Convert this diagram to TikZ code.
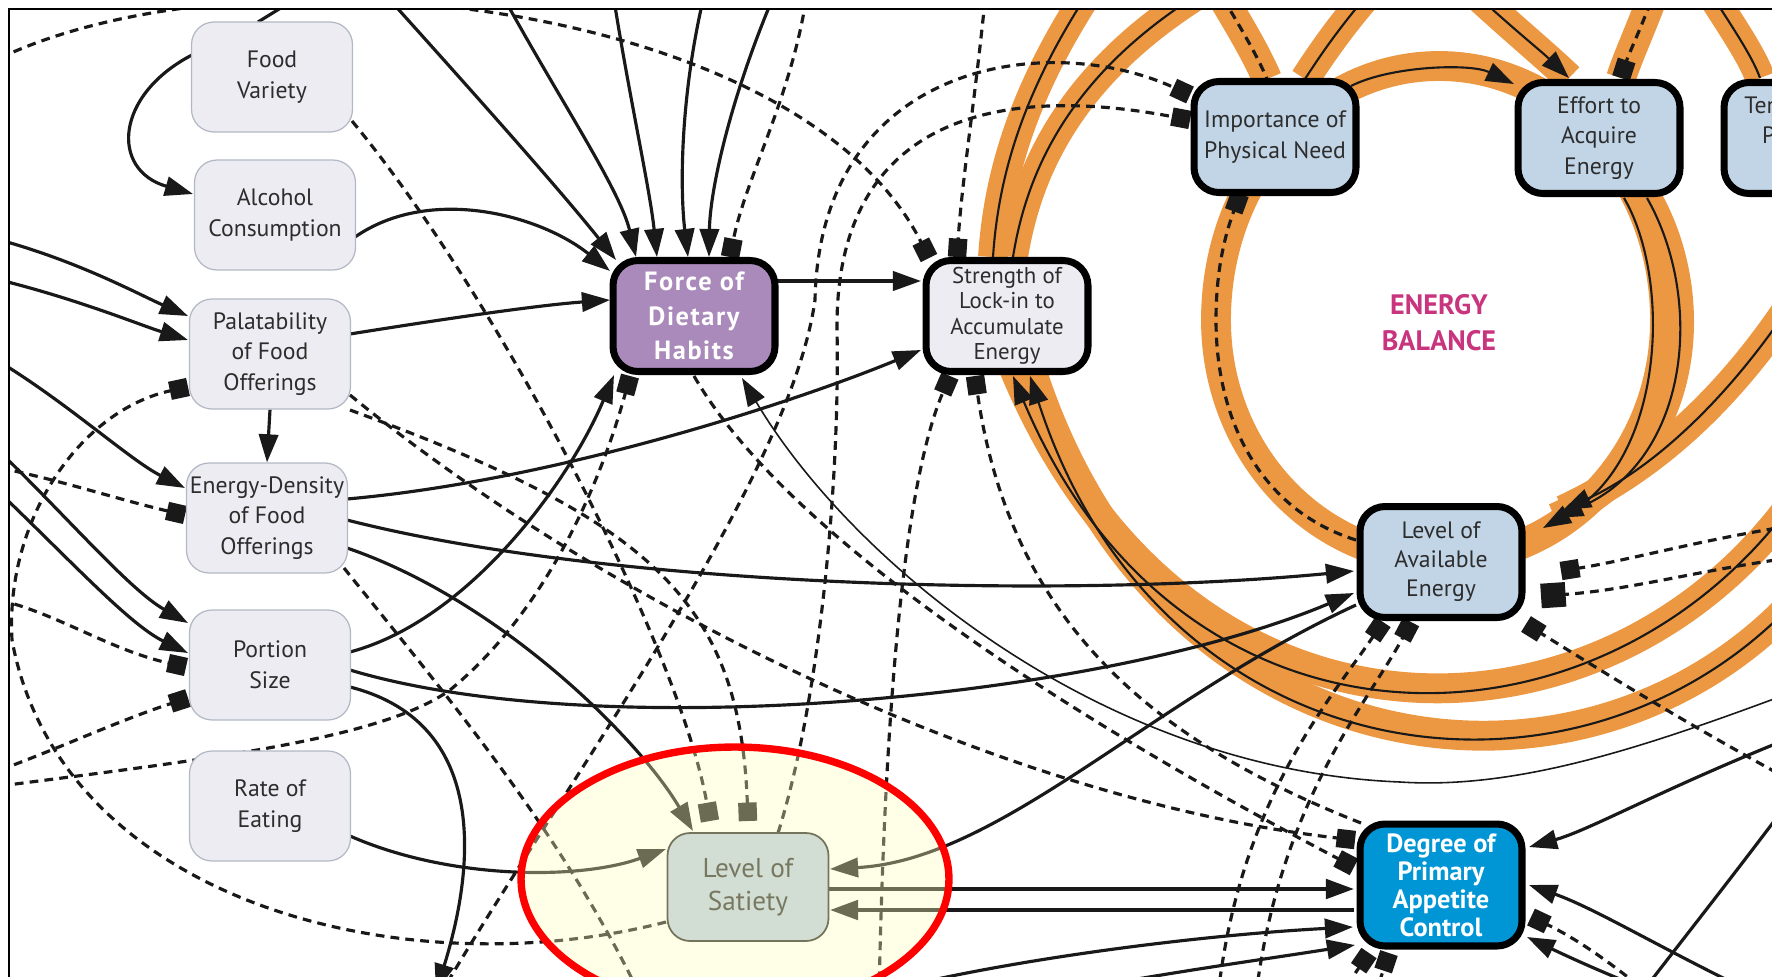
\documentclass[tikz,border=0pt]{standalone}
\usepackage{fontspec}
\setmainfont{PT Sans}
\usetikzlibrary{positioning,calc,arrows.meta,backgrounds}

\definecolor{eborange}{RGB}{236,151,66}
\definecolor{varfill}{RGB}{236,236,242}
\definecolor{varline}{RGB}{178,184,196}
\definecolor{corefill}{RGB}{194,213,230}
\definecolor{habitfill}{RGB}{169,138,186}
\definecolor{appfill}{RGB}{0,150,214}
\definecolor{satfill}{RGB}{185,204,224}
\definecolor{balancetext}{RGB}{200,52,125}
\definecolor{textgrey}{RGB}{45,45,45}
\definecolor{hilite}{RGB}{255,255,190}

\begin{document}
\begin{tikzpicture}[x=0.02cm,y=-0.02cm]
\tikzset{
  varbox/.style={
    draw=varline, line width=0.7pt, fill=varfill, rounded corners=0.45cm,
    minimum width=3.22cm, minimum height=2.2cm, align=center, inner sep=1pt,
    text=textgrey, font=\fontsize{13.5}{17.5}\selectfont
  },
  keybox/.style={
    varbox, draw=black, line width=4pt, fill=corefill, rounded corners=0.5cm,
    minimum width=3.24cm, minimum height=2.22cm
  },
  link/.style={
    draw=black!90, line width=1.8pt,
    -{Triangle[length=16pt,width=11pt]}
  },
  thinlink/.style={link, line width=0.9pt},
  inhib/.style={
    draw=black!90, line width=1.8pt, dash pattern=on 5pt off 3.5pt,
    -{Square[length=10.5pt,width=10.5pt]}
  },
  openinhib/.style={
    draw=black!90, line width=1.8pt, dash pattern=on 5pt off 3.5pt
  },
  band/.style={draw=eborange, line width=17pt},
  loopline/.style={draw=black!90, line width=1.2pt},
  looplink/.style={loopline, -{Triangle[length=16pt,width=11pt]}}
}
\useasboundingbox (0,0) rectangle (1772,977);
\clip (0,0) rectangle (1772,977);

% ======= Variables =======
\node[varbox] (fv) at (272,77)  {Food\\Variety};
\node[varbox] (ac) at (275,215) {Alcohol\\Consumption};
\node[varbox] (pa) at (270,354) {Palatability\\of Food\\Offerings};
\node[varbox] (ed) at (267,518) {Energy-Density\\of Food\\Offerings};
\node[varbox] (ps) at (270,665) {Portion\\Size};
\node[varbox] (re) at (270,806) {Rate of\\Eating};

\node[keybox, fill=habitfill, text=white,
      font=\bfseries\addfontfeature{LetterSpace=6}\fontsize{15}{19.5}\selectfont] (fd) at (694,316) {Force of\\Dietary\\Habits};
\node[keybox, fill=varfill, font=\fontsize{13}{14.5}\selectfont] (sl) at (1007,316) {Strength of\\Lock-in to\\Accumulate\\Energy};
\node[keybox] (ip) at (1275,137) {Importance of\\Physical Need};
\node[keybox] (ea) at (1599,138) {Effort to\\Acquire\\Energy};
\node[keybox] (te) at (1805,138) {Tendency to\\Preserve\\Energy};
\node[keybox, font=\fontsize{13.5}{16.5}\selectfont] (la) at (1441,562) {Level of\\Available\\Energy};
\node[keybox, fill=appfill, text=white, minimum height=2.44cm,
      font=\bfseries\fontsize{15}{16}\selectfont] (dp) at (1441,885) {Degree of\\Primary\\Appetite\\Control};
\node[varbox, fill=satfill, draw=black!85, line width=1pt, minimum height=2.16cm,
      font=\fontsize{15.5}{19}\selectfont] (ls) at (748,887) {Level of\\Satiety};

\node[font=\bfseries\fontsize{16}{20.5}\selectfont, text=balancetext, align=center] (eb) at (1439,323) {ENERGY\\BALANCE};

% ======= Free ends at the frame =======
\coordinate (tfv) at (310,-10);
\coordinate (tp1) at (390,0);   \coordinate (tp2) at (505,0);
\coordinate (tp3) at (614,0);   \coordinate (tp4) at (703,0);
\coordinate (tp5) at (772,0);   \coordinate (tp6) at (1400,-40);
\coordinate (tp7) at (1440,-40); \coordinate (tp8) at (1200,-40);
\coordinate (tp9) at (1665,-40); \coordinate (tp10) at (1690,-40);
\coordinate (tp11) at (985,0);  \coordinate (tp12) at (806,0);
\coordinate (lp1) at (1110,-40); \coordinate (lp2) at (1240,-30);
\coordinate (lp3) at (1850,400); \coordinate (lp4) at (1880,470);
\coordinate (lf1) at (0,240);   \coordinate (lf2) at (0,280);
\coordinate (lf3) at (0,362);   \coordinate (lf4) at (0,452);
\coordinate (lf5) at (0,493);   \coordinate (lf6) at (0,58);
\coordinate (lf7) at (0,786);   \coordinate (lf8) at (0,468);
\coordinate (lf9) at (0,600);   \coordinate (lf10) at (0,770);
\coordinate (bt1) at (436,992); \coordinate (bt2) at (440,995);
\coordinate (bt3) at (879,995); \coordinate (bt4) at (640,995);
\coordinate (bt5) at (1218,995); \coordinate (bt6) at (1256,995);
\coordinate (bt7) at (1650,995); \coordinate (bt8) at (1330,1010);
\coordinate (bt9) at (1370,1010); \coordinate (bt10) at (870,995);
\coordinate (bt11) at (1050,995); \coordinate (bt12) at (1640,995);
\coordinate (rt1) at (1790,693); \coordinate (rt2) at (1800,290);
\coordinate (rt3) at (1790,526); \coordinate (rt4) at (1790,558);
\coordinate (rt5) at (1790,780); \coordinate (rt6) at (1790,738);
\coordinate (rt7) at (1790,1010); \coordinate (rt8) at (1700,1010);
\coordinate (rt9) at (1790,800);

\begin{scope}[on background layer]
\clip (9,9) rectangle (1772,977);

% ======= Energy balance loops (orange) =======
\draw[band] (1439,66) .. controls (1564,66) and (1665,180) .. (1665,320)
  .. controls (1665,453) and (1565,560) .. (1441,560)
  .. controls (1317,560) and (1216,453) .. (1216,320)
  .. controls (1216,180) and (1314,66) .. cycle;
\draw[band] ($(sl)+(-14,-59)$) .. controls (1000,150) and (1040,60) .. (lp1);
\draw[band] ($(sl)+(6,-59)$) .. controls (1030,150) and (1090,50) .. (lp2);
\draw[band] (lp3) .. controls (1700,760) and (1200,820) .. ($(sl)+(6,50)$);
\draw[band] (lp4) .. controls (1720,840) and (1180,840) .. ($(sl)+(23,50)$);
\draw[band] ($(ea)+(48,60)$) .. controls (1705,300) and (1690,460) .. ($(la)+(114,-44)$);
\draw[band] (rt2) .. controls (1730,400) and (1650,470) .. ($(la)+(122,-52)$);
\draw[band] ($(ip)+(30,-58)$) .. controls (1330,40) and (1360,0) .. (tp6);
\draw[band] (tp7) .. controls (1490,10) and (1540,50) .. ($(ea)+(-30,-60)$);
\draw[band] (tp8) .. controls (1230,10) and (1255,50) .. ($(ip)+(-8,-58)$);
\draw[band] (tp9) .. controls (1650,10) and (1630,50) .. ($(ea)+(22,-60)$);
\draw[band] (tp10) .. controls (1720,10) and (1750,50) .. ($(te)+(-45,-60)$);

% ======= Lines along the loops =======
\draw[looplink] ($(ip)+(76,-51)$) .. controls (1390,66) and (1470,63) .. ($(ea)+(-85,-54)$);
\draw[inhib] ($(la)+(-85,-22)$) .. controls (1260,510) and (1216,420) .. (1216,320)
  .. controls (1216,270) and (1225,235) .. ($(ip)+(-35,57)$);
\draw[looplink] ($(ea)+(25,60)$) .. controls (1672,280) and (1665,460) .. ($(la)+(102,-34)$);
\draw[looplink] ($(ea)+(48,60)$) .. controls (1705,300) and (1690,460) .. ($(la)+(114,-44)$);
\draw[looplink] (rt2) .. controls (1730,400) and (1650,470) .. ($(la)+(122,-52)$);
\draw[loopline] ($(sl)+(-14,-59)$) .. controls (1000,150) and (1040,60) .. (lp1);
\draw[loopline] ($(sl)+(6,-59)$) .. controls (1030,150) and (1090,50) .. (lp2);
\draw[looplink] (lp3) .. controls (1700,760) and (1200,820) .. ($(sl)+(6,60)$);
\draw[looplink] (lp4) .. controls (1720,840) and (1180,840) .. ($(sl)+(23,60)$);
\draw[loopline] ($(ip)+(30,-58)$) .. controls (1330,40) and (1360,0) .. (tp6);
\draw[looplink] (tp7) .. controls (1490,10) and (1540,50) .. ($(ea)+(-30,-60)$);
\draw[openinhib] (tp8) .. controls (1230,10) and (1255,50) .. ($(ip)+(-8,-58)$);
\draw[inhib] (tp9) .. controls (1650,10) and (1630,50) .. ($(ea)+(22,-60)$);
\draw[loopline] (tp10) .. controls (1720,10) and (1750,50) .. ($(te)+(-45,-60)$);

% ======= Solid links =======
\draw[link] ($(fv)+(-80,-22)$) .. controls (115,95) and (110,170) .. ($(ac)+(-82,-21)$);
\draw[link, -] ($(fv)+(-14,-55)$) -- (tfv);
\draw[link] ($(ac)+(80,22)$) .. controls (430,185) and (540,215) .. ($(fd)+(-84,-45)$);
\draw[link] ($(pa)+(80,-20)$) .. controls (450,318) and (540,305) .. ($(fd)+(-84,-16)$);
\draw[link] (lf1) .. controls (80,262) and (140,295) .. ($(pa)+(-82,-38)$);
\draw[link] (lf2) .. controls (80,300) and (140,325) .. ($(pa)+(-82,-14)$);
\draw[link] (pa.south) -- (ed.north);
\draw[link] (lf3) .. controls (70,405) and (130,460) .. ($(ed)+(-82,-30)$);
\draw[link] (lf4) .. controls (70,520) and (130,590) .. ($(ps)+(-82,-42)$);
\draw[link] (lf5) .. controls (70,560) and (130,625) .. ($(ps)+(-82,-12)$);
\draw[link] ($(ed)+(80,-19)$) .. controls (560,480) and (800,400) .. ($(sl)+(-86,34)$);
\draw[link] ($(ed)+(80,2)$) .. controls (600,585) and (1050,600) .. ($(la)+(-87,9)$);
\draw[link] ($(ed)+(80,30)$) .. controls (500,600) and (640,740) .. ($(ls)+(-55,-56)$);
\draw[link] ($(ps)+(80,-13)$) .. controls (470,620) and (570,480) .. ($(fd)+(-80,59)$);
\draw[link] ($(ps)+(80,5)$) .. controls (600,745) and (1100,700) .. ($(la)+(-87,31)$);
\draw[link] ($(ps)+(80,22)$) .. controls (480,720) and (480,850) .. (bt1);
\draw[link] ($(re)+(80,30)$) .. controls (450,880) and (580,880) .. ($(ls)+(-82,-38)$);
\draw[link] ($(la)+(-85,43)$) .. controls (1150,700) and (1000,860) .. ($(ls)+(82,-18)$);
\draw[link, line width=2.4pt] ($(ls)+(80,2)$) -- ($(dp)+(-87,4)$);
\draw[link, line width=2.4pt] ($(dp)+(-87,25)$) -- ($(ls)+(82,23)$);
\draw[link] ($(fd)+(84,-35)$) -- ($(sl)+(-86,-35)$);
\draw[thinlink] (rt1) .. controls (1650,745) and (1520,790) .. (1400,782)
  .. controls (1100,770) and (850,560) .. ($(fd)+(48,62)$);
\draw[link] (tp1) .. controls (480,100) and (560,190) .. ($(fd)+(-78,-56)$);
\draw[link] (tp2) .. controls (560,100) and (620,190) .. ($(fd)+(-58,-59)$);
\draw[link] (tp3) .. controls (630,100) and (650,190) .. ($(fd)+(-37,-59)$);
\draw[link] (tp4) .. controls (680,100) and (680,190) .. ($(fd)+(-6,-59)$);
\draw[link] (tp5) .. controls (730,100) and (710,190) .. ($(fd)+(15,-59)$);
\draw[link] (rt6) .. controls (1660,790) and (1590,830) .. ($(dp)+(88,-38)$);
\draw[link] (rt7) .. controls (1680,960) and (1600,910) .. ($(dp)+(88,0)$);
\draw[link] (rt8) .. controls (1630,985) and (1575,960) .. ($(dp)+(86,52)$);
\draw[link] (bt10) .. controls (1000,960) and (1200,935) .. ($(dp)+(-88,42)$);
\draw[link] (bt11) .. controls (1150,975) and (1260,960) .. ($(dp)+(-86,60)$);
\draw[link, -] (bt12) .. controls (1690,930) and (1730,880) .. (rt9);

% ======= Dashed links =======
\draw[inhib] (lf6) .. controls (250,-60) and (800,0) .. ($(sl)+(-78,-58)$);
\draw[inhib] (tp11) .. controls (975,100) and (962,180) .. ($(sl)+(-50,-59)$);
\draw[inhib] (bt2) .. controls (560,790) and (790,480) .. (815,300)
  .. controls (820,60) and (1050,30) .. ($(ip)+(-85,-42)$);
\draw[inhib] ($(ls)+(30,-54)$) .. controls (820,700) and (840,480) .. (837,330)
  .. controls (835,130) and (980,80) .. ($(ip)+(-85,-17)$);
\draw[inhib] (bt3) .. controls (885,700) and (905,480) .. ($(sl)+(-57,60)$);
\draw[inhib] ($(dp)+(-80,-62)$) .. controls (1150,740) and (1010,620) .. ($(sl)+(-32,60)$);
\draw[inhib] (tp12) .. controls (790,100) and (745,180) .. ($(fd)+(36,-59)$);
\draw[inhib] (lf7) .. controls (200,760) and (380,740) .. (450,690)
  .. controls (560,600) and (610,450) .. ($(fd)+(-64,60)$);
\draw[inhib] ($(ls)+(-82,35)$) .. controls (400,990) and (60,900) .. (12,640)
  .. controls (5,520) and (80,410) .. ($(pa)+(-82,33)$);
\draw[inhib] (lf8) .. controls (60,480) and (120,500) .. ($(ed)+(-82,-3)$);
\draw[inhib] (lf9) .. controls (60,615) and (110,650) .. ($(ps)+(-84,2)$);
\draw[inhib] (lf10) .. controls (60,748) and (120,720) .. ($(ps)+(-82,33)$);
\draw[inhib] ($(fv)+(80,44)$) .. controls (500,300) and (680,650) .. ($(ls)+(-38,-66)$);
\draw[inhib] ($(pa)+(80,41)$) .. controls (600,600) and (1000,800) .. ($(dp)+(-86,-45)$);
\draw[inhib] ($(pa)+(80,56)$) .. controls (650,520) and (740,600) .. ($(ls)+(0,-66)$);
\draw[openinhib] ($(ed)+(77,50)$) .. controls (450,700) and (560,830) .. (bt4);
\draw[inhib] ($(fd)+(0,60)$) .. controls (800,560) and (1150,760) .. ($(dp)+(-87,-18)$);
\draw[inhib] (bt5) .. controls (1240,800) and (1330,700) .. ($(la)+(-58,60)$);
\draw[inhib] (bt6) .. controls (1280,800) and (1370,700) .. ($(la)+(-30,60)$);
\draw[inhib] (rt3) .. controls (1700,540) and (1630,560) .. ($(la)+(120,9)$);
\draw[inhib, -{Square[length=14pt,width=14pt]}] (rt4) .. controls (1700,570) and (1630,590) .. ($(la)+(100,34)$);
\draw[inhib] (rt5) .. controls (1680,720) and (1600,670) .. ($(la)+(85,62)$);
\draw[inhib] (bt7) .. controls (1620,970) and (1580,940) .. ($(dp)+(90,32)$);
\draw[inhib] (bt8) -- ($(dp)+(-72,68)$);
\draw[inhib] (bt9) -- ($(dp)+(-52,68)$);
\end{scope}

% ======= Highlight round Level of Satiety =======
\fill[hilite, fill opacity=0.36] (735,879) ellipse [x radius=4.28cm, y radius=2.64cm];
\draw[red, line width=4.2pt] (735,879) ellipse [x radius=4.28cm, y radius=2.64cm];

% ======= Frame =======
\draw[line width=0.8pt] (9,977) -- (9,9) -- (1772,9);
\end{tikzpicture}
\end{document}
